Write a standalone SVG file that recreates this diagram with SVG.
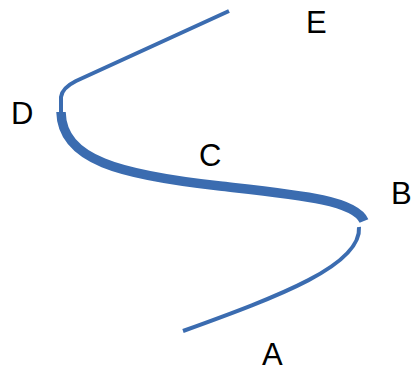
<svg xmlns="http://www.w3.org/2000/svg" width="418" height="372" viewBox="0 0 418 372">
<style>
.c{fill:none;stroke:#3b6cb0;stroke-linecap:butt;stroke-linejoin:round}
.thin{stroke-width:4}
.thick{stroke-width:9.5}
text{font-family:"Liberation Sans",Arial,sans-serif;font-size:31px;fill:#000}
</style>
<rect width="418" height="372" fill="#fff"/>
<g id="connectors">
<path class="c thin" d="M183,331 C280,296 362,265 359,227"/>
<path class="c thick" d="M364,221 C355,200 300,195 220,186 C120,175 62,160 61,112"/>
<path class="c thin" d="M61,114 L61,97 Q62,88 76,81 L229,11"/>
</g>
<g id="A"><text x="262" y="365">A</text></g>
<g id="B"><text x="391" y="204">B</text></g>
<g id="C"><text x="199" y="166">C</text></g>
<g id="D"><text x="11" y="124">D</text></g>
<g id="E"><text x="306" y="33">E</text></g>
</svg>
